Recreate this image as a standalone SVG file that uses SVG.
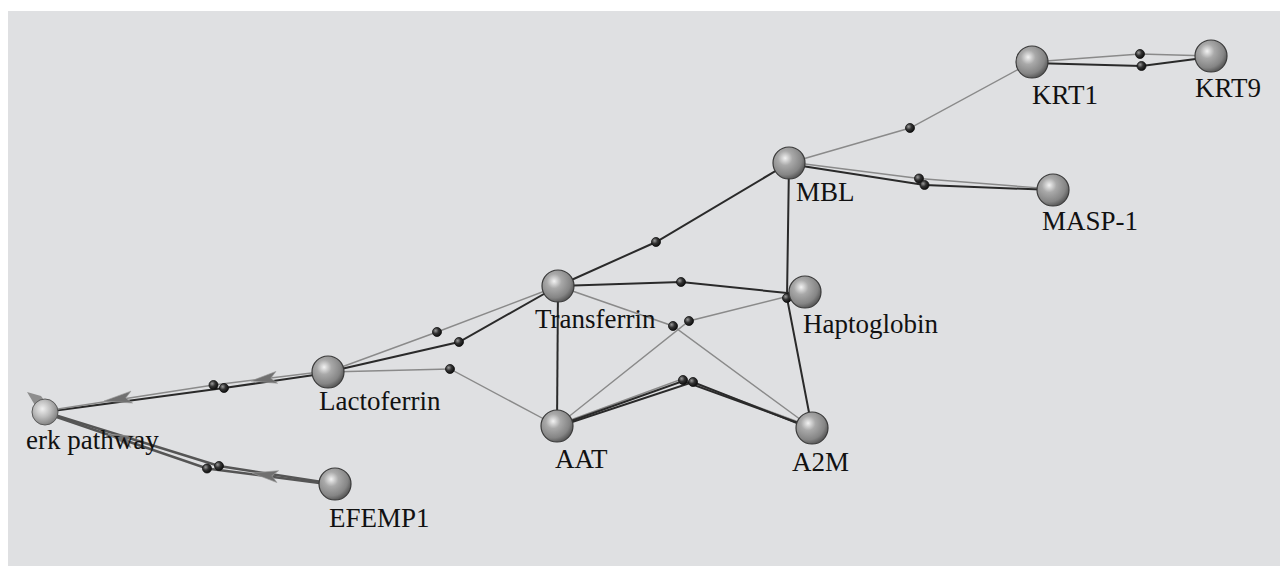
<svg xmlns="http://www.w3.org/2000/svg" width="1280" height="566" viewBox="0 0 1280 566">
<defs>
<radialGradient id="sph" cx="38%" cy="35%" r="65%">
<stop offset="0" stop-color="#f2f2f2"/>
<stop offset="0.35" stop-color="#a9a9a9"/>
<stop offset="0.8" stop-color="#858585"/>
<stop offset="1" stop-color="#5e5e5e"/>
</radialGradient>
<radialGradient id="sphL" cx="40%" cy="38%" r="65%">
<stop offset="0" stop-color="#f0f0f0"/>
<stop offset="0.5" stop-color="#bcbcbc"/>
<stop offset="1" stop-color="#7e7e7e"/>
</radialGradient>
<radialGradient id="dot" cx="35%" cy="35%" r="65%">
<stop offset="0" stop-color="#9a9a9a"/>
<stop offset="0.5" stop-color="#333"/>
<stop offset="1" stop-color="#111"/>
</radialGradient>
</defs>
<style>
.bg{fill:#dfe0e2}
.node{fill:url(#sph);stroke:#3a3a3a;stroke-width:1.2}
.nodeL{fill:url(#sphL);stroke:#5a5a5a;stroke-width:1}
.dot{fill:url(#dot);stroke:#111;stroke-width:0.8}
.dk{fill:none;stroke:#2a2a2a;stroke-width:2}
.lt{fill:none;stroke:#8a8a8a;stroke-width:1.4}
.gr{fill:none;stroke:#555;stroke-width:2.4}
.arr{fill:#707070;stroke:#9a9a9a;stroke-width:0.6}
.lbl{font-family:"Liberation Serif","Times New Roman",serif;font-size:27px;fill:#111}
</style>
<rect class="bg" x="8" y="11" width="1272" height="555"/>
<g id="connectors">
<polyline class="lt" points="1032,62 1140,54 1211,56"/>
<polyline class="dk" points="1032,63 1141.5,66 1211,57"/>
<polyline class="lt" points="789,163 910,128 1032,62"/>
<polyline class="lt" points="789,162 919,178.5 1053,189"/>
<polyline class="dk" points="789,164 924.5,185 1053,190"/>
<polyline class="dk" points="789,163 656,242 558,286"/>
<polyline class="dk" points="789,163 787,298 812,428"/>
<polyline class="dk" points="558,286 681,282 787,293 805,292"/>
<polyline class="lt" points="557,426 689,321 805,292"/>
<polyline class="lt" points="558,286 673,326 812,428"/>
<polyline class="dk" points="558,286 557,426"/>
<polyline class="lt" points="557,425 682,379 812,427"/>
<polyline class="dk" points="557,426 683,381 812,428"/>
<polyline class="dk" points="557,427 693,382 812,429"/>
<polyline class="lt" points="328,372 437,332 558,286"/>
<polyline class="dk" points="328,372 459,342 558,286"/>
<polyline class="lt" points="328,372 450,369 557,426"/>
<polyline class="dk" points="328,373 224,388 45,412"/>
<polyline class="lt" points="328,371 213.5,385 45,411"/>
<polyline class="gr" points="335,484 219,466 45,412"/>
<polyline class="gr" points="335,485 207,468.5 45,413"/>
<path class="arr" d="M0,0 L26,-6 L20,0 L26,6 Z" transform="translate(251,381) rotate(-8)"/>
<path class="arr" d="M0,0 L28,-6 L22,0 L28,6 Z" transform="translate(104,401) rotate(-8)"/>
<path class="arr" d="M0,0 L26,-6 L20,0 L26,6 Z" transform="translate(252,473) rotate(8)"/>
<path class="arr" d="M0,0 L26,-6 L20,0 L26,6 Z" transform="translate(108,434) rotate(18)"/>
<path fill="#8e8e8e" d="M27,392 L41,396 L47,404 L36,407 Z"/>
<circle class="dot" cx="1140" cy="54" r="4.5"/>
<circle class="dot" cx="1141.5" cy="66" r="4.5"/>
<circle class="dot" cx="910" cy="128" r="4.5"/>
<circle class="dot" cx="919" cy="178.5" r="4.5"/>
<circle class="dot" cx="924.5" cy="185" r="4.5"/>
<circle class="dot" cx="656" cy="242" r="4.5"/>
<circle class="dot" cx="681" cy="282" r="4.5"/>
<circle class="dot" cx="787" cy="298" r="4.5"/>
<circle class="dot" cx="689" cy="321" r="4.5"/>
<circle class="dot" cx="673" cy="326" r="4.5"/>
<circle class="dot" cx="683" cy="380" r="4.5"/>
<circle class="dot" cx="693" cy="382" r="4.5"/>
<circle class="dot" cx="437" cy="332" r="4.5"/>
<circle class="dot" cx="459" cy="342" r="4.5"/>
<circle class="dot" cx="450" cy="369" r="4.5"/>
<circle class="dot" cx="213.5" cy="385" r="4.5"/>
<circle class="dot" cx="224" cy="388" r="4.5"/>
<circle class="dot" cx="219" cy="466" r="4.5"/>
<circle class="dot" cx="207" cy="468.5" r="4.5"/>
</g>
<g id="KRT1"><circle class="node" cx="1032" cy="62" r="16"/><text class="lbl" x="1032" y="104">KRT1</text></g>
<g id="KRT9"><circle class="node" cx="1211" cy="56" r="16"/><text class="lbl" x="1195" y="97">KRT9</text></g>
<g id="MBL"><circle class="node" cx="789" cy="163" r="16"/><text class="lbl" x="796" y="201">MBL</text></g>
<g id="MASP-1"><circle class="node" cx="1053" cy="190" r="16"/><text class="lbl" x="1042" y="230">MASP-1</text></g>
<g id="Transferrin"><circle class="node" cx="558" cy="286" r="16"/><text class="lbl" x="535" y="328">Transferrin</text></g>
<g id="Haptoglobin"><circle class="node" cx="805" cy="292" r="16"/><text class="lbl" x="803" y="333">Haptoglobin</text></g>
<g id="Lactoferrin"><circle class="node" cx="328" cy="372" r="16"/><text class="lbl" x="319" y="410">Lactoferrin</text></g>
<g id="AAT"><circle class="node" cx="557" cy="426" r="16"/><text class="lbl" x="555" y="468">AAT</text></g>
<g id="A2M"><circle class="node" cx="812" cy="428" r="16"/><text class="lbl" x="792" y="471">A2M</text></g>
<g id="erk-pathway"><circle class="nodeL" cx="45" cy="412" r="13"/><text class="lbl" x="26" y="449">erk pathway</text></g>
<g id="EFEMP1"><circle class="node" cx="335" cy="484" r="16"/><text class="lbl" x="329" y="527">EFEMP1</text></g>
</svg>
